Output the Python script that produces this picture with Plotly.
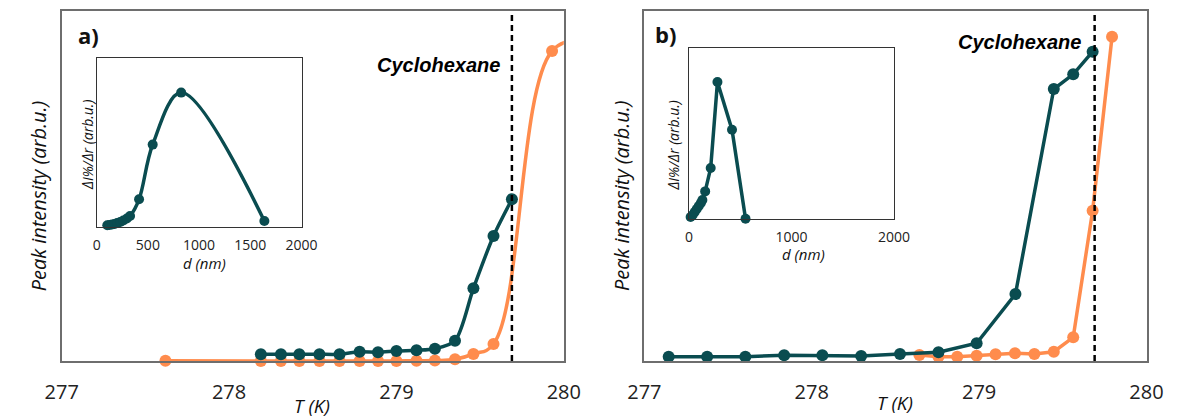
import plotly.graph_objects as go

W, H = 1181, 420

DARK = "#0a4c50"
ORANGE = "#ff8c4d"

# ---------------- Panel a data ----------------
a_dark_T = [278.19, 278.31, 278.42, 278.54, 278.66, 278.78, 278.89, 279.00,
            279.12, 279.23, 279.35, 279.46, 279.58, 279.69]
a_dark_I = [6.7, 6.7, 6.7, 6.7, 6.7, 9.3, 8.7, 10.0, 10.7, 12.3, 20.3, 72.7, 125.0, 161.7]

a_orange_T = [277.62, 278.19, 278.31, 278.42, 278.54, 278.66, 278.78, 278.89,
              279.00, 279.12, 279.23, 279.35, 279.46, 279.58, 279.93, 280.10]
a_orange_I = [0.3, 0, 0, 0, 0, 0, 0, 0, 0, 0.3, 0.5, 1.7, 7.0, 17.0, 310.0, 320.0]

a_inset_d = [104, 125, 150, 175, 200, 230, 260, 295, 326, 414, 547, 825, 1637]
a_inset_v = [1.7, 2.0, 2.5, 3.0, 4.0, 5.0, 6.5, 8.5, 11.0, 27.7, 82.4, 134.4, 6.0]

# ---------------- Panel b data ----------------
b_dark_T = [277.145, 277.375, 277.603, 277.835, 278.063, 278.295, 278.527, 278.757,
            278.985, 279.217, 279.446, 279.562, 279.678]
b_dark_I = [4.3, 4.3, 4.3, 5.7, 5.7, 5.0, 7.0, 8.7, 17.7, 67.0, 272.0, 286.7, 309.3]

b_orange_T = [278.643, 278.757, 278.869, 278.985, 279.098, 279.214, 279.330, 279.446,
              279.562, 279.678, 279.794]
b_orange_I = [6.0, 4.3, 4.3, 5.3, 6.7, 7.7, 7.0, 9.3, 23.7, 150.3, 324.3]

b_inset_d = [15, 35, 55, 75, 95, 115, 130, 157, 211, 277, 419, 551]
b_inset_v = [2.0, 4.0, 7.0, 10.0, 13.0, 16.0, 19.0, 27.6, 51.0, 137.0, 89.3, 0.3]

T_ticks = [277, 278, 279, 280]
a_inset_ticks = [0, 500, 1000, 1500, 2000]
b_inset_ticks = [0, 1000, 2000]
T_melt = 279.69
T_max = 280


def px(x):
    return x / W


def py(y):
    return 1 - y / H


fig = go.Figure()

# panel a main: orange line (clipped at the frame) + its markers inside the range
fig.add_trace(go.Scatter(x=a_orange_T, y=a_orange_I, mode="lines",
                         line=dict(color=ORANGE, width=3.5, shape="spline", smoothing=1.2),
                         cliponaxis=True, xaxis="x", yaxis="y", showlegend=False))
a_or_vis = [(t, v) for t, v in zip(a_orange_T, a_orange_I) if t <= T_max]
fig.add_trace(go.Scatter(x=[p[0] for p in a_or_vis], y=[p[1] for p in a_or_vis], mode="markers",
                         marker=dict(color=ORANGE, size=12), cliponaxis=False,
                         xaxis="x", yaxis="y", showlegend=False))
fig.add_trace(go.Scatter(x=a_dark_T, y=a_dark_I, mode="lines+markers",
                         line=dict(color=DARK, width=3.5, shape="spline", smoothing=0.8),
                         marker=dict(color=DARK, size=12), cliponaxis=False,
                         xaxis="x", yaxis="y", showlegend=False))
# panel a inset
fig.add_trace(go.Scatter(x=a_inset_d, y=a_inset_v, mode="lines+markers",
                         line=dict(color=DARK, width=3.5, shape="spline", smoothing=1.0),
                         marker=dict(color=DARK, size=10), cliponaxis=False,
                         xaxis="x2", yaxis="y2", showlegend=False))
# panel b main
fig.add_trace(go.Scatter(x=b_orange_T, y=b_orange_I, mode="lines+markers",
                         line=dict(color=ORANGE, width=3.5),
                         marker=dict(color=ORANGE, size=12), cliponaxis=False,
                         xaxis="x3", yaxis="y3", showlegend=False))
fig.add_trace(go.Scatter(x=b_dark_T, y=b_dark_I, mode="lines+markers",
                         line=dict(color=DARK, width=3.5),
                         marker=dict(color=DARK, size=12), cliponaxis=False,
                         xaxis="x3", yaxis="y3", showlegend=False))
# panel b inset
fig.add_trace(go.Scatter(x=b_inset_d, y=b_inset_v, mode="lines+markers",
                         line=dict(color=DARK, width=3.5),
                         marker=dict(color=DARK, size=10), cliponaxis=False,
                         xaxis="x4", yaxis="y4", showlegend=False))

FONT = "Open Sans"
main_x = dict(range=[277, 280], tickvals=T_ticks, showline=True, mirror=True,
              linecolor="#6e6e6e", linewidth=1.5, showgrid=False, zeroline=False,
              ticks="", ticklabelstandoff=12,
              tickfont=dict(family=FONT, size=20, color="#222"))
main_y = dict(range=[0, 350], showticklabels=False, showline=True, mirror=True,
              linecolor="#6e6e6e", linewidth=1.5, showgrid=False, zeroline=False, ticks="")
inset_y = dict(showticklabels=False, showline=True, mirror=True, linecolor="#333",
               linewidth=1, showgrid=False, zeroline=False, ticks="")
inset_x = dict(range=[0, 2000], showline=True, mirror=True, linecolor="#333",
               linewidth=1, showgrid=False, zeroline=False, ticks="", ticklabelstandoff=5,
               tickfont=dict(family=FONT, size=14, color="#222"))

fig.update_layout(
    width=W, height=H, margin=dict(l=0, r=0, t=0, b=0),
    paper_bgcolor="white", plot_bgcolor="white",
    xaxis=dict(domain=[px(46), px(563)], anchor="y", **main_x),
    yaxis=dict(domain=[py(361), py(11)], anchor="x", **main_y),
    xaxis3=dict(domain=[px(646), px(1163)], anchor="y3", **main_x),
    yaxis3=dict(domain=[py(361), py(11)], anchor="x3", **main_y),
    xaxis2=dict(domain=[px(82), px(293)], anchor="y2", tickvals=a_inset_ticks, **inset_x),
    yaxis2=dict(domain=[py(227), py(58)], anchor="x2", range=[0, 169], **inset_y),
    xaxis4=dict(domain=[px(692), px(903)], anchor="y4", tickvals=b_inset_ticks, **inset_x),
    yaxis4=dict(domain=[py(219), py(48)], anchor="x4", range=[0, 171], **inset_y),
)

dash = dict(color="black", width=2.5, dash="6px,4px")
fig.add_shape(type="line", xref="x", yref="y domain", x0=T_melt, x1=T_melt, y0=0, y1=1, line=dash)
fig.add_shape(type="line", xref="x3", yref="y3 domain", x0=T_melt, x1=T_melt, y0=0, y1=1, line=dash)


def ann(text, x, y, size, angle=0, family=FONT, color="#111"):
    fig.add_annotation(text=text, xref="paper", yref="paper", x=px(x), y=py(y),
                       xanchor="center", yanchor="middle", showarrow=False, textangle=angle,
                       font=dict(family=family, size=size, color=color))


ann("<b>a)</b>", 74, 35, 22)
ann("<b>b)</b>", 668, 34, 22)
ann("<b><i>Cyclohexane</i></b>", 434, 65, 20, family="Liberation Sans", color="black")
ann("<b><i>Cyclohexane</i></b>", 1032, 42, 20, family="Liberation Sans", color="black")
ann("<i>Peak intensity (arb.u.)</i>", 22, 196, 20, angle=-90)
ann("<i>Peak intensity (arb.u.)</i>", 622, 196, 20, angle=-90)
ann("<i>T (K)</i>", 304, 406, 19)
ann("<i>T (K)</i>", 904, 403, 19)
ann("<i>d (nm)</i>", 193, 263, 15)
ann("<i>d (nm)</i>", 810, 254, 15)
ann("<i>ΔI%/Δr (arb.u.)</i>", 72, 145, 14, angle=-90)
ann("<i>ΔI%/Δr (arb.u.)</i>", 675, 146, 14, angle=-90)

fig.write_html("out.html")
